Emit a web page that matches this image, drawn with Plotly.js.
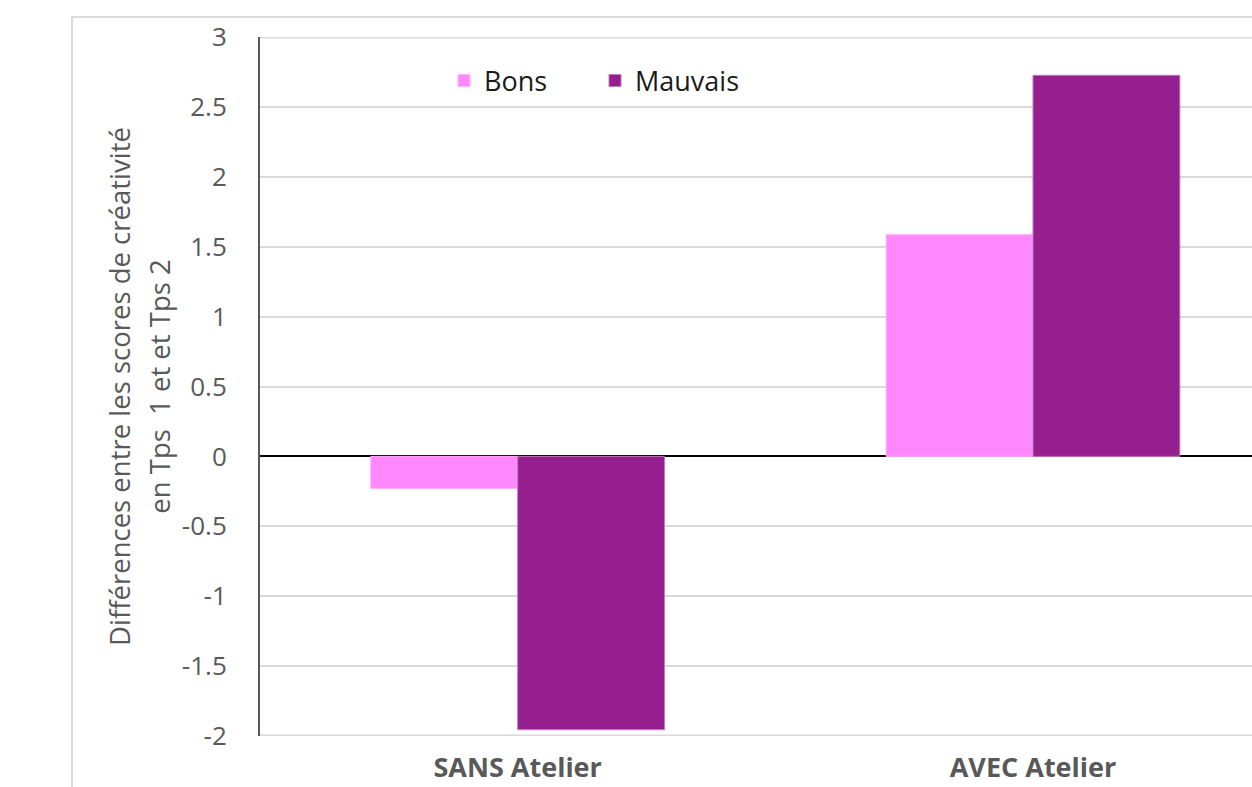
<!DOCTYPE html>
<html>
<head>
<meta charset="utf-8">
<script src="https://cdn.plot.ly/plotly-3.0.1.min.js"></script>
<style>html,body{margin:0;padding:0;background:#fff;}#chart{width:1252px;height:787px;}</style>
</head>
<body>
<div id="chart"></div>
<script>
const categories = ["SANS Atelier", "AVEC Atelier"];
const bons = [-0.23, 1.586];
const mauvais = [-1.955, 2.726];
const yTicks = [-2, -1.5, -1, -0.5, 0, 0.5, 1, 1.5, 2, 2.5, 3];
const yTickText = ["-2", "-1.5", "-1", "-0.5", "0", "0.5", "1", "1.5", "2", "2.5", "3"];
const yTitleLines = ["Différences entre les scores de créativité", "en Tps  1 et et Tps 2"];

const W = 1252, H = 787;
const mL = 260, mR = 0, mT = 37, mB = 51;
const pw = W - mL - mR, ph = H - mT - mB;
const px2x = p => (p - mL) / pw;
const px2y = p => (H - mB - p) / ph;

const font = "'Open Sans', 'Noto Sans', sans-serif";

const traces = [
  {type: "bar", name: "Bons", x: categories, y: bons,
   marker: {color: "#FF88FF", line: {color: "#FFB0FF", width: 1}}},
  {type: "bar", name: "Mauvais", x: categories, y: mauvais,
   marker: {color: "#951F8F", line: {color: "#C07ABD", width: 1}}}
];

const yTitle = yTitleLines.map(s => '<span style="font-size:27.5px">' + s + '</span>').join('<br>');

const layout = {
  width: W, height: H,
  margin: {l: mL, r: mR, t: mT, b: mB},
  paper_bgcolor: "#fff", plot_bgcolor: "#fff",
  barmode: "group", bargap: 0.43, bargroupgap: 0,
  font: {family: font, color: "#595959", size: 22},
  showlegend: true,
  legend: {orientation: "h", x: px2x(444), y: px2y(81), xanchor: "left", yanchor: "middle",
           font: {family: font, size: 27, color: "#1a1a1a"}, bgcolor: "rgba(0,0,0,0)",
           entrywidth: 106, entrywidthmode: "pixels", tracegroupgap: 0},
  xaxis: {type: "category", range: [-0.5, 1.425], showgrid: false, zeroline: false,
          showline: false, ticks: "", ticklabelstandoff: 13,
          tickfont: {family: font, size: 27, color: "#595959", weight: "bold"}},
  yaxis: {range: [-2, 3], tickvals: yTicks, ticktext: yTickText,
          showgrid: true, gridcolor: "#d9d9d9", gridwidth: 2,
          zeroline: true, zerolinecolor: "#000", zerolinewidth: 2,
          showline: true, linecolor: "#595959", linewidth: 2,
          ticks: "", ticklabelstandoff: 26,
          tickfont: {family: font, size: 26, color: "#595959"},
          title: {text: yTitle,
                  font: {family: font, size: 31, color: "#595959"}, standoff: 2}},
  shapes: [
    {type: "rect", xref: "paper", yref: "paper",
     x0: px2x(72), x1: px2x(1300), y0: px2y(820), y1: px2y(17),
     line: {color: "#d9d9d9", width: 2}, fillcolor: "rgba(0,0,0,0)", layer: "below"},
    {type: "line", xref: "paper", yref: "y", x0: 0, x1: 1,
     y0: yTicks[yTicks.length - 1], y1: yTicks[yTicks.length - 1],
     line: {color: "#d9d9d9", width: 3}, layer: "below"},
    {type: "line", xref: "paper", yref: "y", x0: 0, x1: 1,
     y0: yTicks[0], y1: yTicks[0],
     line: {color: "#d9d9d9", width: 3}, layer: "below"}
  ]
};

Plotly.newPlot("chart", traces, layout, {displayModeBar: false, staticPlot: true});
</script>
</body>
</html>
